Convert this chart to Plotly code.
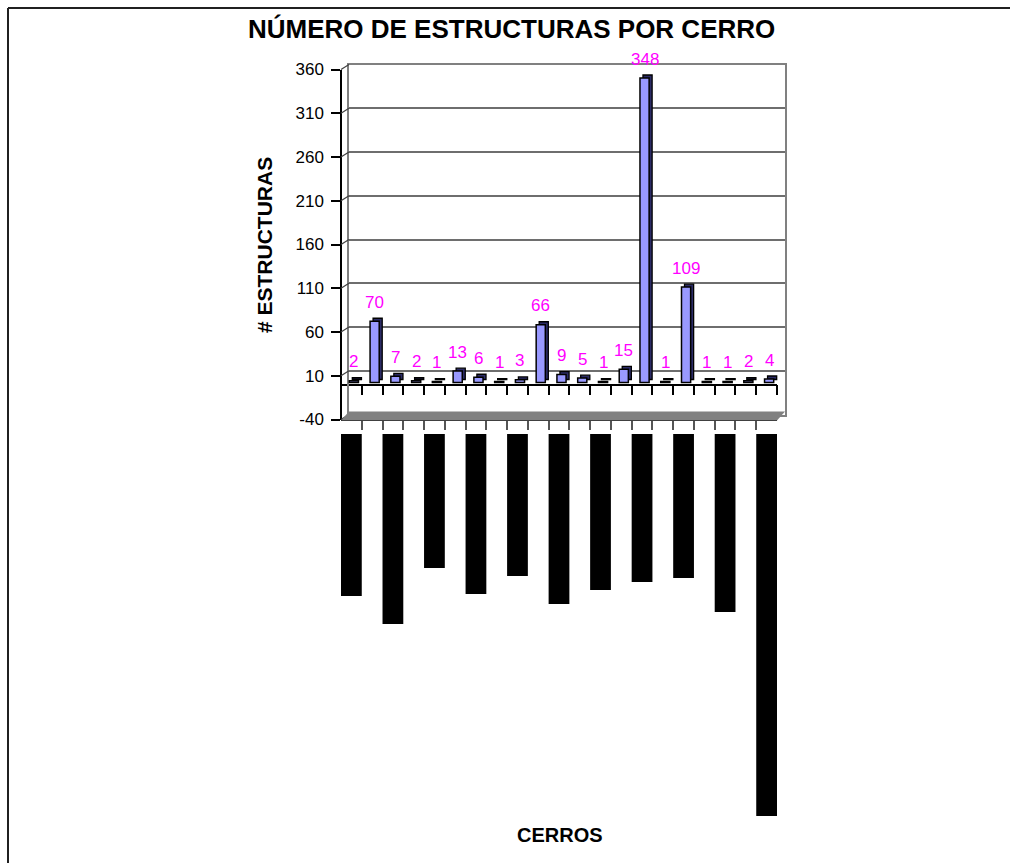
import plotly.graph_objects as go

# ---- data -------------------------------------------------------------
cerros = [f"Cerro {i}" for i in range(1, 22)]
estructuras = [2, 70, 7, 2, 1, 13, 6, 1, 3, 66, 9, 5, 1, 15, 348, 1, 109, 1, 1, 2, 4]
# every other hill carries a printed name strip under the axis; strip lengths
cerros_rotulados = cerros[::2]
largo_rotulo = [162, 190, 134, 160, 142, 170, 156, 148, 144, 178, 382]
y_ticks = list(range(-40, 361, 50))
y_tick_text = [str(v) for v in y_ticks]

# ---- page geometry (pixels) -------------------------------------------
W, H = 1010, 863
FONT = "Arial, 'Liberation Sans', sans-serif"

FRONT_L, FRONT_R = 341, 777        # front plane of the 3-D box
FRONT_TOP, FRONT_BOT = 69.5, 419.5 # 360 and -40 on the front plane
DEPTH_X, DEPTH_Y = 8, 5            # back wall offset
BAR_DX, BAR_DY = 2.5, 2            # column front faces sit mid-depth
CAP_DX, CAP_DY = 3, 3              # column depth (side / top faces)
Y_MIN, Y_MAX = -40, 360


def fx(px):
    return px / W


def fy(px):
    return 1 - px / H


def xdom(left, right):
    return [fx(left), fx(right)]


def ydom(top, bottom):
    return [fy(bottom), fy(top)]


pos = list(range(len(estructuras)))
pos_rotulos = pos[::2]
bordes = [p - 0.5 for p in pos] + [pos[-1] + 0.5]
x_range = [-0.5, len(estructuras) - 0.5]
px_per_unit = (FRONT_BOT - FRONT_TOP) / (Y_MAX - Y_MIN)

fig = go.Figure()

# empty traces so the frame axes get drawn
fig.add_trace(go.Scatter(x=[None], y=[None], xaxis="x", yaxis="y",
                         showlegend=False, hoverinfo="skip"))
fig.add_trace(go.Scatter(x=[None], y=[None], xaxis="x2", yaxis="y2",
                         showlegend=False, hoverinfo="skip"))

# column depth faces (drawn first, peeking out top/right)
fig.add_trace(go.Bar(
    x=pos, y=estructuras, xaxis="x3", yaxis="y3", width=0.44,
    marker=dict(color="#2b2b66", line=dict(color="black", width=1.3)),
    showlegend=False, hoverinfo="skip",
))
# column front faces
fig.add_trace(go.Bar(
    x=pos, y=estructuras, xaxis="x4", yaxis="y4", width=0.44,
    marker=dict(color="#9999FF", line=dict(color="black", width=1.5)),
    customdata=cerros, hovertemplate="%{customdata}: %{y}<extra></extra>",
    showlegend=False,
))
# name strips under the category axis
fig.add_trace(go.Bar(
    x=pos_rotulos, y=largo_rotulo, xaxis="x5", yaxis="y5", width=1.0,
    marker=dict(color="black", line=dict(width=0)),
    customdata=cerros_rotulados, hovertemplate="%{customdata}<extra></extra>",
    showlegend=False,
))

hidden = dict(visible=False, fixedrange=True)

layout = dict(
    width=W, height=H,
    margin=dict(l=0, r=0, t=0, b=0, autoexpand=False),
    paper_bgcolor="white", plot_bgcolor="rgba(0,0,0,0)",
    font=dict(family=FONT, color="black"),
    barmode="overlay",
    showlegend=False,
    # front plane: value axis with labels, category axis crossing at 0
    xaxis=dict(
        domain=xdom(FRONT_L, FRONT_R), range=x_range, anchor="free",
        position=fy(FRONT_BOT - (0 - Y_MIN) * px_per_unit),
        showline=True, linecolor="black", linewidth=1.5,
        ticks="outside", tickvals=bordes, ticklen=10, tickwidth=1.5,
        tickcolor="black", showticklabels=False, showgrid=False,
        zeroline=False, fixedrange=True, automargin=False,
    ),
    yaxis=dict(
        domain=ydom(FRONT_TOP, FRONT_BOT), range=[Y_MIN, Y_MAX],
        anchor="free", position=fx(FRONT_L),
        showline=True, linecolor="black", linewidth=1.5,
        ticks="outside", ticklen=9, tickwidth=1.5, tickcolor="black",
        tickvals=y_ticks, ticktext=y_tick_text, ticklabelstandoff=4,
        tickfont=dict(family=FONT, size=17, color="black"),
        showgrid=False, zeroline=False, fixedrange=True, automargin=False,
    ),
    # back wall with gridlines
    xaxis2=dict(
        domain=xdom(FRONT_L + DEPTH_X, FRONT_R + DEPTH_X), range=x_range,
        anchor="y2", showline=True, mirror=True, linecolor="#808080",
        linewidth=2, ticks="", showticklabels=False, showgrid=False,
        zeroline=False, fixedrange=True,
    ),
    yaxis2=dict(
        domain=ydom(FRONT_TOP - DEPTH_Y, FRONT_BOT - DEPTH_Y),
        range=[Y_MIN, Y_MAX], anchor="x2", showline=True, mirror=True,
        linecolor="#808080", linewidth=2, ticks="", showticklabels=False,
        tickvals=y_ticks, showgrid=True, gridcolor="#6e6e6e", gridwidth=1.5,
        zeroline=False, fixedrange=True,
    ),
    xaxis3=dict(domain=xdom(FRONT_L + BAR_DX + CAP_DX, FRONT_R + BAR_DX + CAP_DX),
                range=x_range, anchor="y3", **hidden),
    yaxis3=dict(domain=ydom(FRONT_TOP - BAR_DY - CAP_DY, FRONT_BOT - BAR_DY - CAP_DY),
                range=[Y_MIN, Y_MAX], anchor="x3", **hidden),
    xaxis4=dict(domain=xdom(FRONT_L + BAR_DX, FRONT_R + BAR_DX),
                range=x_range, anchor="y4", **hidden),
    yaxis4=dict(domain=ydom(FRONT_TOP - BAR_DY, FRONT_BOT - BAR_DY),
                range=[Y_MIN, Y_MAX], anchor="x4", **hidden),
    # floor front edge with ticks, name strips hanging below it
    xaxis5=dict(
        domain=xdom(FRONT_L, FRONT_R), range=x_range, anchor="y5",
        side="top", showline=True, linecolor="black", linewidth=1.5,
        ticks="inside", tickvals=bordes, ticklen=9, tickwidth=1.5,
        tickcolor="#555555", showticklabels=False, showgrid=False,
        zeroline=False, fixedrange=True, automargin=False,
    ),
    yaxis5=dict(domain=ydom(421, 851), range=[417, -13], anchor="x5", **hidden),
)
fig.update_layout(**layout)

shapes = []
# outer chart border (left and top edges, running off the page)
shapes.append(dict(type="line", xref="paper", yref="paper",
                   x0=fx(8), y0=fy(8), x1=1, y1=fy(8),
                   line=dict(color="#202020", width=2)))
shapes.append(dict(type="line", xref="paper", yref="paper",
                   x0=fx(8), y0=fy(8), x1=fx(8), y1=0,
                   line=dict(color="#202020", width=2)))
# side-wall gridline stubs linking front ticks to the back wall
for v in y_ticks:
    yf = FRONT_BOT - (v - Y_MIN) * px_per_unit
    shapes.append(dict(type="line", xref="paper", yref="paper",
                       x0=fx(FRONT_L), y0=fy(yf),
                       x1=fx(FRONT_L + DEPTH_X), y1=fy(yf - DEPTH_Y),
                       line=dict(color="#404040", width=1.2)))
# floor slab
floor_top = FRONT_BOT - DEPTH_Y - 3
floor_bot = FRONT_BOT + 1
shapes.append(dict(
    type="path", xref="paper", yref="paper", layer="above",
    path=(f"M {fx(FRONT_L)},{fy(floor_bot)} L {fx(FRONT_R)},{fy(floor_bot)} "
          f"L {fx(FRONT_R + DEPTH_X)},{fy(floor_top)} "
          f"L {fx(FRONT_L + DEPTH_X)},{fy(floor_top)} Z"),
    fillcolor="#808080", line=dict(width=0),
))
fig.update_layout(shapes=shapes)

annotations = []
# value labels above the columns
for p, v in zip(pos, estructuras):
    annotations.append(dict(
        x=p, y=v, xref="x4", yref="y4", text=str(v), showarrow=False,
        xanchor="center", yanchor="middle", yshift=19,
        font=dict(family=FONT, size=17, color="#FF00FF"),
    ))
annotations.append(dict(
    x=fx(511), y=fy(29), xref="paper", yref="paper",
    text="<b>NÚMERO DE ESTRUCTURAS POR CERRO</b>", showarrow=False,
    xanchor="center", yanchor="middle",
    font=dict(family=FONT, size=26, color="black"),
))
annotations.append(dict(
    x=fx(265), y=fy(245), xref="paper", yref="paper",
    text="<b># ESTRUCTURAS</b>", showarrow=False, textangle=-90,
    xanchor="center", yanchor="middle",
    font=dict(family=FONT, size=21, color="black"),
))
annotations.append(dict(
    x=fx(560), y=fy(835), xref="paper", yref="paper",
    text="<b>CERROS</b>", showarrow=False,
    xanchor="center", yanchor="middle",
    font=dict(family=FONT, size=20, color="black"),
))
fig.update_layout(annotations=annotations)

fig.write_html("out.html")
